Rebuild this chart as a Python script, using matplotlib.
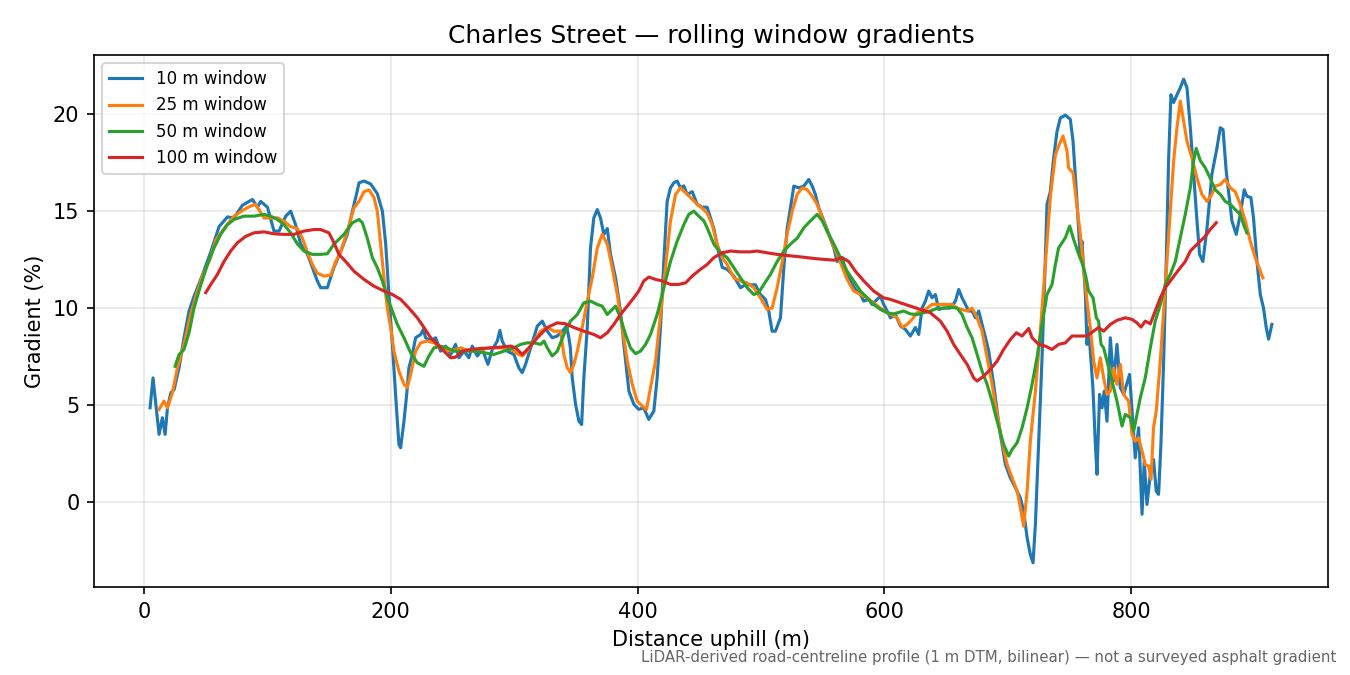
import matplotlib

matplotlib.use("Agg")
import matplotlib.pyplot as plt

# distance uphill (m) vs gradient (%)
w10_x = [5.1, 7.5, 12.4, 15.1, 17.3, 19.2, 21.9, 24.6, 28.6, 32.6, 36.7, 40.7, 47.5,
         54.3, 61.0, 67.8, 73.1, 79.9, 88.0, 92.1, 94.7, 100.2, 105.5, 109.6, 115.0,
         119.0, 123.0, 127.1, 132.5, 140.6, 143.3, 148.7, 154.1, 159.5, 164.9, 169.0,
         171.7, 174.4, 178.4, 183.8, 189.2, 193.3, 196.0, 198.6, 201.4, 204.0, 206.7,
         208.1, 210.8, 213.0, 214.8, 217.6,
         220.2, 224.3, 226.5, 228.3, 232.4, 236.4, 240.5, 244.5, 248.6, 252.6, 255.3,
         259.4, 263.4, 266.1, 270.2, 274.3, 278.8, 282.4, 286.4, 288.5, 290.4, 294.5,
         299.8, 303.9, 306.6, 309.3, 313.4, 316.0, 318.8, 322.8, 326.9, 330.9, 335.0,
         339.0, 342.5, 344.4, 345.6,
         347.1, 349.8, 352.5, 354.7, 356.5, 359.3, 361.9, 364.6, 367.4, 370.0, 372.7,
         375.5, 378.1, 382.2, 386.2, 388.9, 393.0, 397.0, 401.0, 405.1, 409.1, 413.2,
         415.9, 418.6, 421.3, 424.0, 426.7, 429.4, 432.1, 434.8, 437.5, 440.2, 444.3,
         448.3, 452.4, 456.4, 459.1, 461.8, 465.8, 468.6, 472.6, 478.0, 483.4, 487.4,
         491.5, 495.5, 499.6, 503.6, 506.3, 509.0, 511.7, 515.8, 518.5, 521.2, 523.9,
         526.6, 530.6, 534.7, 538.7, 541.5, 544.1, 546.8, 550.9, 555.0, 559.0, 561.7,
         565.7, 569.8,
         572.5, 576.5, 580.6, 583.3, 587.3, 590.0, 594.1, 596.8, 599.4, 602.2, 604.9,
         608.9, 613.0, 617.0, 621.0, 625.1, 627.8, 630.5, 633.2, 635.9, 638.6, 641.3,
         644.0, 648.0, 653.4, 657.5, 660.2, 662.9, 668.3, 671.0, 673.7, 676.4, 679.1,
         681.9, 684.5,
         688.5, 691.3, 693.9, 698.0, 702.0, 706.1, 710.1, 712.8, 715.6, 718.2, 720.4,
         722.3, 725.0, 727.7, 730.4, 731.7, 734.4, 737.1, 739.8, 742.5, 746.6, 750.6,
         752.8, 755.5, 758.7, 760.0, 762.8, 764.1, 765.4, 768.9, 770.9, 772.2, 774.3,
         776.3, 778.1, 780.3, 783.0, 785.7, 788.4, 791.1, 793.8, 798.6, 800.6, 803.2,
         805.9, 808.7, 810.5, 812.7, 815.4, 818.0, 820.2, 822.1, 824.0, 826.2, 828.3,
         830.2, 832.1, 834.3, 837.0, 839.7, 842.4, 845.1, 847.8, 850.5, 853.2, 855.3,
         858.0, 861.3, 865.3, 869.4, 872.1, 874.3, 876.9, 881.5, 885.0, 888.2, 891.5,
         893.6, 896.9, 899.0, 901.8, 904.5, 907.1, 909.3, 911.2, 913.9]
w10_y = [4.86, 6.40, 3.49, 4.35, 3.49, 4.86, 5.63, 5.80, 6.92, 8.47, 9.85, 10.6, 11.7,
         12.9, 14.2, 14.7, 14.65, 15.3, 15.6, 15.2, 15.5, 15.2, 13.97, 13.97, 14.74,
         15.0, 14.3, 13.3, 12.8, 11.4, 11.05, 11.05, 12.1, 12.9, 13.8, 15.0,
         15.7, 16.46, 16.55, 16.4, 15.9, 15.0, 13.3, 10.7, 8.13, 5.55, 2.97,
         2.80, 4.17, 5.55, 6.92, 7.61,
         8.47, 8.64, 8.90, 8.47, 8.30, 8.47, 7.78, 8.04, 7.61, 8.13, 7.44,
         7.78, 7.44, 8.04, 7.53, 7.87, 7.10, 7.87, 8.30, 8.85, 8.30, 7.78,
         7.61, 6.92, 6.67, 7.10, 7.95, 8.47, 9.07, 9.33, 8.81, 8.47, 8.56,
         8.81, 9.07, 8.47, 7.95,
         6.40, 5.04, 4.17, 4.00, 6.40, 9.00, 13.1, 14.65, 15.08, 14.65, 13.8,
         14.1, 12.77, 11.56, 9.85, 8.13, 5.72, 5.04, 4.78, 4.86, 4.26, 4.69,
         6.40, 9.00, 12.4, 15.5, 16.2, 16.46, 16.55, 16.2, 16.3, 15.86, 16.0,
         15.35, 15.2, 15.2, 14.65, 14.1, 12.85, 12.1, 12.0, 11.65, 11.05, 11.2,
         11.2, 11.2, 10.7, 10.45, 9.85, 8.81, 8.81, 9.50, 12.08, 14.1, 15.17,
         16.29, 16.2, 16.29, 16.63, 16.29, 15.86, 15.17, 14.5, 13.8, 13.1, 12.4,
         12.6, 11.7,
         11.4, 10.96, 10.7, 10.36, 10.45, 10.19, 10.45, 10.62, 10.19, 9.85, 9.50,
         9.67, 9.07, 8.90, 8.56, 9.00, 8.64, 10.0, 10.36, 10.88, 10.53, 10.7,
         9.93, 10.0, 10.0, 10.36, 10.96, 10.53, 9.85, 9.85, 9.50, 9.85, 9.16,
         8.47, 7.78,
         6.07, 4.69, 3.49, 1.94, 1.25, 0.74, 0.22, -0.46, -1.84, -2.70, -3.13,
         -1.15, 3.14, 7.44, 12.6, 15.35, 16.0, 17.75, 19.1, 19.8, 19.95, 19.73,
         18.6, 16.0, 12.6, 13.45, 10.7, 8.13, 9.00, 5.90, 2.97, 1.43, 5.55,
         4.86, 5.72, 4.17, 8.47, 6.24, 8.13, 5.90, 5.55, 6.58, 4.69, 2.28,
         3.83, -0.63, 2.11, -0.12, 1.43, 2.20, 0.57, 0.40, 2.97, 7.27, 12.4,
         17.6, 21.0, 20.6, 21.0, 21.36, 21.8, 21.36, 19.3, 16.9, 14.5, 12.77,
         12.4, 14.1, 16.9, 18.26, 19.3, 19.2, 17.06, 14.5, 13.8, 14.8, 16.1,
         15.77, 15.7, 14.65, 12.4, 10.7, 10.0, 9.0, 8.4, 9.16]

w25_x = [12.4, 16.4, 19.2, 23.2, 27.3, 32.6, 38.0, 43.5, 47.5, 52.9, 58.3, 65.0, 73.1,
         81.2, 86.6, 90.7, 97.4, 102.8, 108.3, 113.6, 119.0, 124.5, 128.5, 132.5, 136.6,
         140.6, 146.0, 151.4, 155.5, 159.5, 164.9, 170.3, 174.4, 178.4, 182.4, 186.5,
         189.2, 191.9, 194.6, 197.3, 200.0, 202.7, 206.7, 210.8, 213.5, 216.2, 220.2,
         224.3, 229.7, 235.1, 240.5, 248.6, 256.7, 264.8, 272.9, 281.0, 289.1, 297.2,
         302.6, 306.6, 310.7, 316.0, 321.5, 326.9, 332.2, 337.7, 340.3, 343.1, 345.7,
         348.4, 351.2, 355.2, 359.3, 363.3, 367.4, 371.4, 375.5, 379.5, 383.6, 387.6,
         391.7, 395.7, 399.8, 403.8, 407.3, 410.5, 414.6, 418.6, 422.7, 426.7, 430.8,
         434.8, 438.9, 442.9, 448.3, 452.0, 456.4, 460.5, 464.5, 468.6, 472.6, 478.0,
         483.4, 488.8, 494.2, 499.6, 505.0, 509.0, 513.1, 517.2, 521.2, 525.3, 529.3,
         533.4, 537.4, 541.5, 545.5, 549.6, 553.6, 557.6, 561.7, 569.8, 575.1, 580.6,
         586.0, 591.3, 596.8, 602.2, 607.5, 610.3, 614.3, 618.4, 622.4, 626.5, 630.5,
         634.6, 638.6, 644.0, 649.4, 654.8, 658.9, 667.0, 671.0, 675.1, 679.1, 683.2,
         687.2, 691.3, 695.3, 699.4, 703.4, 707.5, 710.1, 712.8, 715.6, 718.2, 722.3,
         726.3, 730.4, 734.4, 738.5, 741.1, 744.7, 747.9, 749.2, 752.8, 755.5, 758.7,
         761.4, 764.1, 766.8, 769.5, 772.2, 774.9, 777.6, 780.3, 783.0, 785.7, 788.4,
         791.1, 793.8, 797.8, 800.6, 803.2, 805.9, 808.7, 811.3, 814.0, 816.0, 818.0,
         820.2, 823.5, 826.2, 828.9, 831.6, 834.3, 837.0, 839.7, 842.4, 845.1, 849.1,
         853.2, 857.2, 861.3, 865.3, 868.0, 872.1, 876.1, 880.2, 884.2, 888.2, 892.3,
         896.4, 900.4, 906.6]
w25_y = [4.78, 5.20, 4.86, 5.63, 6.92, 8.13, 9.67, 10.88, 11.65, 12.4, 13.5, 14.1, 14.74,
         15.08, 15.26, 15.35, 14.65, 14.65, 14.65, 14.48, 14.2, 14.1, 13.6, 12.9, 12.25,
         11.8, 11.65, 11.7, 12.4, 12.9, 13.97, 15.17, 15.5, 16.0, 16.1, 15.7,
         15.0, 13.3, 11.56, 10.0, 9.0, 7.78, 6.75, 6.07, 5.90, 6.58, 7.78,
         8.21, 8.30, 8.21, 7.95, 7.78, 7.95, 7.78, 7.87, 7.95, 7.95, 7.90,
         7.65, 7.53, 7.78, 8.30, 8.81, 9.00, 8.81, 8.81, 7.61, 6.92, 6.67,
         7.10, 7.78, 9.00, 10.36, 11.56, 13.1, 13.8, 13.3, 12.08, 10.7, 9.00,
         7.27, 6.07, 5.20, 4.95, 4.78, 5.90, 7.27, 9.67, 12.08, 14.5, 15.86,
         16.2, 15.95, 15.7, 15.35, 15.17, 14.9, 14.3, 13.3, 12.6, 12.25, 11.56,
         11.4, 11.3, 11.05, 10.53, 9.93, 10.0, 11.05, 12.4, 13.8, 15.0, 15.86,
         16.2, 16.1, 15.77, 15.35, 14.65, 13.97, 13.37, 12.77, 11.48, 10.88, 10.7,
         10.53, 10.27, 10.0, 9.76, 9.6, 9.5, 9.0, 9.16, 9.42, 9.76, 9.85,
         10.0, 10.19, 10.19, 10.19, 10.19, 10.0, 9.85, 10.0, 9.5, 8.81, 7.44,
         6.07, 4.52, 3.14, 1.94, 1.25, 0.57, -0.29, -1.24, 0.57, 3.14, 5.72,
         8.81, 12.25, 15.7, 17.9, 18.35, 18.87, 18.1, 17.23, 16.97, 15.5, 13.8,
         12.08, 10.36, 9.0, 7.27, 6.4, 7.44, 6.4, 5.55, 5.72, 6.92, 6.07,
         7.10, 5.55, 5.20, 3.49, 3.14, 3.31, 2.63, 1.94, 1.86, 1.17, 3.83,
         4.69, 7.27, 9.85, 12.4, 15.0, 17.6, 19.3, 20.67, 19.64, 18.6, 17.75,
         16.7, 15.86, 15.5, 15.86, 16.29, 16.37, 16.63, 16.2, 16.0, 15.35, 14.5,
         13.45, 12.6, 11.56]

w50_x = [25.4, 28.6, 32.6, 36.7, 40.7, 46.2, 51.6, 56.9, 62.3, 67.8, 73.1, 81.2, 89.3,
         97.4, 102.8, 108.3, 113.6, 119.0, 124.5, 129.8, 136.6, 143.3, 148.7, 154.1,
         162.2, 169.0, 174.4, 177.1, 181.1, 185.2, 189.2, 193.3, 197.3, 201.4, 205.4,
         210.8, 216.2, 221.6, 227.0, 231.0, 235.1, 240.5, 245.9, 251.3, 259.4, 267.5,
         275.6, 283.6, 291.8, 299.8, 305.3, 310.7, 316.0, 321.5, 324.2, 326.9, 330.9,
         335.0, 340.3, 345.7, 351.2, 356.5, 361.9, 367.4, 371.4, 375.5, 382.2, 386.2,
         390.3, 394.3, 398.4, 402.4, 406.5, 410.5, 415.9, 421.3, 426.7, 432.1, 437.5,
         441.5, 445.6, 449.6, 453.7, 456.4, 461.8, 467.2, 472.6, 478.0, 483.4, 488.8,
         494.2, 498.2, 502.3, 507.7, 513.1, 518.5, 523.9, 529.3, 534.7, 540.1, 545.5,
         549.6, 553.6, 559.0, 564.4, 569.8, 575.1, 580.6, 586.0, 591.3, 596.8, 602.2,
         607.5, 615.6, 621.0, 626.5, 631.8, 637.2, 642.7, 648.0, 653.4, 658.9, 662.9,
         667.0, 671.0, 675.1, 679.1, 683.2, 687.2, 691.3, 696.6, 700.7, 703.4, 707.5,
         711.5, 715.6, 719.6, 723.6, 727.7, 731.7, 735.8, 738.5, 741.1, 743.9, 746.6,
         750.1, 753.3, 757.4, 760.0, 762.8, 765.4, 769.0, 771.7, 773.5, 775.5, 777.6,
         780.3, 784.4, 788.4, 792.5, 795.1, 799.2, 801.9, 804.6, 807.3, 811.3, 815.4,
         819.4, 823.5, 827.5, 831.6, 835.6, 839.7, 843.7, 847.8, 850.5, 852.6, 855.9,
         859.9, 863.9, 868.0, 872.1, 876.1, 880.2, 884.2, 888.2, 891.0, 893.6]
w50_y = [7.0, 7.61, 7.87, 8.73, 10.0, 11.2, 12.25, 13.1, 13.8, 14.3, 14.57, 14.74, 14.74,
         14.83, 14.74, 14.57, 14.3, 13.88, 13.3, 12.94, 12.77, 12.77, 12.8, 13.3,
         13.8, 14.4, 14.57, 14.4, 13.6, 12.6, 12.08, 11.4, 10.53, 9.85, 9.16,
         8.47, 7.70, 7.18, 7.00, 7.53, 7.95, 8.04, 7.95, 7.78, 7.78, 7.78,
         7.70, 7.61, 7.78, 7.95, 8.13, 8.21, 8.21, 8.13, 8.30, 7.95, 7.53,
         7.78, 8.64, 9.33, 9.67, 10.27, 10.36, 10.19, 10.1, 9.67, 10.1, 9.50,
         8.64, 7.95, 7.65, 7.78, 8.13, 8.64, 9.67, 11.05, 12.4, 13.45, 14.3,
         14.83, 15.0, 14.74, 14.5, 14.14, 13.3, 12.85, 12.6, 12.08, 11.56, 11.05,
         10.7, 10.8, 11.22, 11.74, 12.4, 12.94, 13.3, 13.6, 14.14, 14.5, 14.83,
         14.5, 13.97, 13.3, 12.6, 11.9, 11.4, 10.88, 10.53, 10.19, 9.93, 9.76,
         9.70, 9.85, 9.70, 9.67, 9.76, 9.85, 9.99, 10.0, 10.05, 10.0, 9.67,
         9.0, 8.47, 7.61, 6.75, 6.07, 5.2, 4.17, 2.97, 2.37, 2.71, 3.06,
         3.83, 4.86, 6.07, 7.44, 9.16, 10.7, 11.22, 12.25, 13.1, 13.37, 13.63,
         14.23, 13.54, 12.77, 12.35, 11.74, 10.88, 10.53, 9.50, 9.33, 8.13, 7.95,
         7.27, 6.24, 5.20, 3.92, 4.52, 4.35, 3.66, 4.52, 5.38, 6.40, 7.95,
         9.33, 10.19, 11.22, 11.74, 12.4, 13.63, 14.83, 16.2, 17.6, 18.23, 17.6,
         17.23, 16.7, 16.1, 15.86, 15.5, 15.35, 15.08, 14.83, 14.3, 13.88]

w100_x = [50.2, 54.3, 59.7, 65.0, 70.4, 75.9, 82.6, 89.3, 97.4, 105.5, 113.6, 121.7,
          129.8, 137.9, 143.3, 150.0, 154.1, 158.1, 163.6, 170.3, 178.4, 186.5, 194.6,
          201.4, 208.1, 214.8, 221.6, 227.0, 232.4, 237.8, 243.2, 248.6, 252.6, 258.0,
          264.8, 272.9, 281.0, 289.1, 297.2, 301.2, 306.6, 312.0, 318.8, 326.9, 335.0,
          341.7, 348.4, 356.5, 364.6, 370.0, 375.5, 380.8, 386.2, 391.7, 397.0, 401.0,
          405.1, 409.1, 414.6, 420.0, 426.7, 433.4, 438.9, 444.3, 451.0, 456.4, 461.8,
          468.6, 475.3, 483.4, 491.5, 496.9, 505.0, 513.1, 521.2, 529.3, 537.4, 545.5,
          553.6, 559.0, 565.7, 571.1, 576.5, 583.3, 591.3, 599.4, 604.9, 613.0, 621.0,
          629.1, 637.2, 645.3, 650.8, 656.1, 661.5, 667.0, 672.3, 675.1, 680.4, 685.8,
          691.3, 696.6, 702.0, 706.9, 711.5, 716.9, 719.6, 725.0, 730.4, 735.8, 741.1,
          746.6, 752.0, 757.4, 764.1, 769.5, 773.5, 777.6, 783.0, 788.4, 795.1, 800.6,
          804.6, 807.9, 811.3, 815.4, 819.4, 823.5, 827.5, 831.6, 835.6, 839.7, 843.7,
          847.8, 851.8, 855.9, 859.9, 863.9, 868.8]
w100_y = [10.8, 11.22, 11.74, 12.4, 12.94, 13.37, 13.7, 13.88, 13.93, 13.83, 13.8, 13.8,
          13.97, 14.05, 14.05, 13.88, 13.37, 12.77, 12.4, 11.9, 11.48, 11.13, 10.88,
          10.7, 10.45, 10.0, 9.5, 9.0, 8.47, 8.13, 7.78, 7.44, 7.47, 7.78,
          7.87, 7.92, 7.95, 7.99, 8.04, 7.95, 7.61, 7.95, 8.47, 9.0, 9.24,
          9.19, 9.0, 8.81, 8.64, 8.47, 8.73, 9.16, 9.67, 10.1, 10.53, 10.88,
          11.4, 11.6, 11.48, 11.4, 11.22, 11.22, 11.3, 11.65, 12.0, 12.25, 12.6,
          12.85, 12.94, 12.9, 12.9, 12.94, 12.85, 12.77, 12.71, 12.66, 12.6, 12.54,
          12.5, 12.47, 12.6, 12.4, 11.9, 11.4, 10.88, 10.53, 10.45, 10.27, 10.1,
          9.93, 9.76, 9.33, 8.81, 8.13, 7.61, 7.10, 6.40, 6.24, 6.49, 6.84,
          7.27, 7.87, 8.38, 8.73, 8.56, 8.95, 8.47, 8.13, 8.04, 7.87, 8.13,
          8.21, 8.56, 8.56, 8.56, 8.81, 9.0, 8.81, 9.16, 9.37, 9.5, 9.42,
          9.24, 9.02, 9.33, 9.19, 9.85, 10.53, 11.05, 11.4, 11.74, 12.08, 12.4,
          12.94, 13.2, 13.45, 13.7, 14.05, 14.4]

fig, ax = plt.subplots(figsize=(9, 4.5), dpi=150)
fig.subplots_adjust(left=0.0696, right=0.9837, top=0.9185, bottom=0.1304)

ax.plot(w10_x, w10_y, color="#1f77b4", lw=1.5, label="10 m window")
ax.plot(w25_x, w25_y, color="#ff7f0e", lw=1.5, label="25 m window")
ax.plot(w50_x, w50_y, color="#2ca02c", lw=1.5, label="50 m window")
ax.plot(w100_x, w100_y, color="#d62728", lw=1.5, label="100 m window")

ax.set_xticks([0, 200, 400, 600, 800])
ax.set_yticks([0, 5, 10, 15, 20])
ax.grid(True, alpha=0.3)
ax.set_xlabel("Distance uphill (m)")
ax.set_ylabel("Gradient (%)")
ax.set_title("Charles Street — rolling window gradients")
ax.legend(loc="upper left", fontsize=8)

fig.text(0.99, 0.015,
         "LiDAR-derived road-centreline profile (1 m DTM, bilinear) — "
         "not a surveyed asphalt gradient",
         ha="right", va="bottom", fontsize=7.2, color="#666666")

fig.savefig("out.png")
